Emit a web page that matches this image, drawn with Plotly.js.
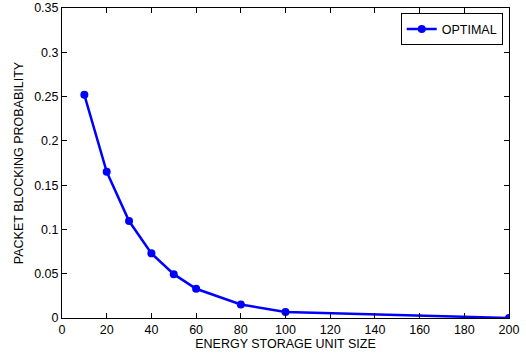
<!DOCTYPE html>
<html>
<head>
<meta charset="utf-8">
<script src="https://cdn.plot.ly/plotly-3.0.1.min.js"></script>
<style>html,body{margin:0;padding:0;background:#fff;}#chart{width:526px;height:358px;}</style>
</head>
<body>
<div id="chart"></div>
<script>
var storageSize = [10, 20, 30, 40, 50, 60, 80, 100, 200];
var blockingProb = [0.252, 0.165, 0.1095, 0.073, 0.0495, 0.033, 0.0153, 0.0068, 0.0];
var seriesName = 'OPTIMAL';
var xTicks = [0, 20, 40, 60, 80, 100, 120, 140, 160, 180, 200];
var yTicks = [0, 0.05, 0.1, 0.15, 0.2, 0.25, 0.3, 0.35];
var yTickText = ['0', '0.05', '0.1', '0.15', '0.2', '0.25', '0.3', '0.35'];

var trace = {
  x: storageSize, y: blockingProb, name: seriesName,
  type: 'scatter', mode: 'lines+markers',
  line: {color: '#0000ff', width: 2.5},
  marker: {color: '#0000ff', size: 8},
  showlegend: true
};
var fontFam = 'Liberation Sans, Arial, Helvetica, sans-serif';
var fs = 12.5;
var layout = {
  width: 526, height: 358,
  margin: {l: 62, r: 17, t: 8, b: 40},
  paper_bgcolor: '#fff', plot_bgcolor: '#fff',
  font: {family: fontFam, size: fs, color: '#000'},
  showlegend: true,
  legend: {x: 0.986, y: 0.983, xanchor: 'right', yanchor: 'top',
    bordercolor: '#000', borderwidth: 1, bgcolor: '#fff',
    font: {family: fontFam, size: fs, color: '#000'}},
  xaxis: {range: [0, 200], tickvals: xTicks, ticktext: xTicks.map(String),
    ticks: 'inside', ticklen: 5, tickcolor: '#000', mirror: 'ticks',
    showline: true, linecolor: '#000', linewidth: 1, showgrid: false, zeroline: false,
    tickfont: {size: fs, color: '#000'},
    title: {text: 'ENERGY STORAGE UNIT SIZE', font: {size: fs, color: '#000'}, standoff: 3}},
  yaxis: {range: [0, 0.35], tickvals: yTicks, ticktext: yTickText,
    ticks: 'inside', ticklen: 5, tickcolor: '#000', mirror: 'ticks',
    showline: true, linecolor: '#000', linewidth: 1, showgrid: false, zeroline: false,
    tickfont: {size: fs, color: '#000'},
    title: {text: 'PACKET BLOCKING PROBABILITY', font: {size: fs, color: '#000'}, standoff: 7}}
};
Plotly.newPlot('chart', [trace], layout, {displayModeBar: false, staticPlot: true});
</script>
</body>
</html>
